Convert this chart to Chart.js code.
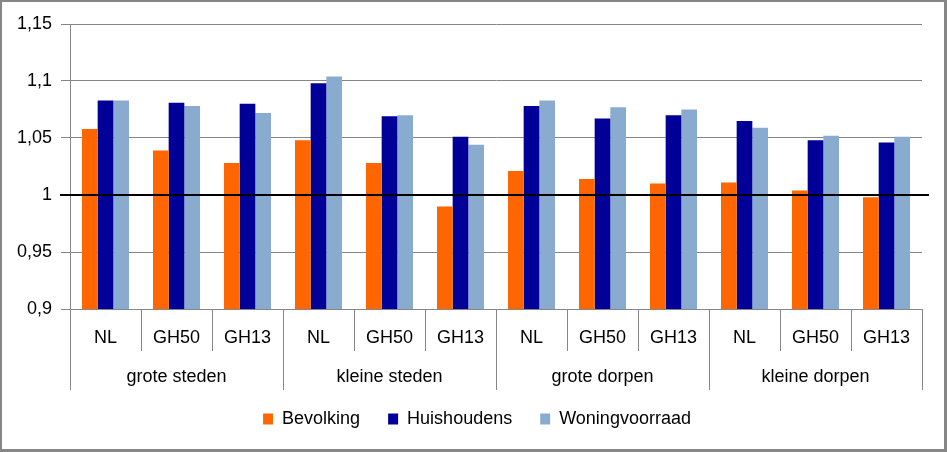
<!DOCTYPE html>
<html>
<head>
<meta charset="utf-8">
<script src="https://cdn.jsdelivr.net/npm/chart.js@4"></script>
<style>
    html, body { margin: 0; padding: 0; background: #ffffff; }
    canvas { display: block; }
</style>
</head>
<body>
<canvas id="chart" width="947" height="452"></canvas>
<script>
// categorieën
const groups = ['grote steden', 'kleine steden', 'grote dorpen', 'kleine dorpen'];
const subLabels = ['NL', 'GH50', 'GH13', 'NL', 'GH50', 'GH13', 'NL', 'GH50', 'GH13', 'NL', 'GH50', 'GH13'];

// reeksen (index t.o.v. 1)
const bevolking = [1.058, 1.039, 1.028, 1.048, 1.028, 0.990, 1.021, 1.014, 1.010, 1.011, 1.004, 0.998];
const huishoudens = [1.083, 1.081, 1.080, 1.098, 1.069, 1.051, 1.078, 1.067, 1.070, 1.065, 1.048, 1.046];
const woningvoorraad = [1.083, 1.078, 1.072, 1.104, 1.070, 1.044, 1.083, 1.077, 1.075, 1.059, 1.052, 1.051];

// y-as
const yTicks = [0.9, 0.95, 1, 1.05, 1.1, 1.15];
const yTickLabels = ['0,9', '0,95', '1', '1,05', '1,1', '1,15'];
const refLine = 1;

const FONT = { family: 'Liberation Sans', size: 18 };
const GRID = '#868686';

// zwarte lijn op 1, legenda iets verschuiven, grijze rand
const extras = {
    id: 'extras',
    afterLayout(chart) {
        const lg = chart.legend;
        if (!lg) return;
        lg.left += 16; lg.right += 16;
        lg.top -= 8; lg.bottom -= 8;
    },
    afterDatasetsDraw(chart) {
        const { ctx, chartArea, scales } = chart;
        const y = scales.y.getPixelForValue(refLine);
        ctx.save();
        ctx.strokeStyle = '#000000';
        ctx.lineWidth = 2;
        ctx.beginPath();
        ctx.moveTo(chartArea.left - 10, y);
        ctx.lineTo(chartArea.right + 7, y);
        ctx.stroke();
        ctx.restore();
    },
    afterDraw(chart) {
        const { ctx, width, height } = chart;
        ctx.save();
        ctx.fillStyle = GRID;
        ctx.fillRect(0, 0, width, 2);
        ctx.fillRect(0, 0, 2, height);
        ctx.fillRect(width - 3, 0, 3, height);
        ctx.fillRect(0, height - 3, width, 3);
        ctx.restore();
    }
};

new Chart(document.getElementById('chart'), {
    type: 'bar',
    data: {
        labels: subLabels,
        datasets: [
            { label: 'Bevolking', data: bevolking, backgroundColor: '#FF6600', borderWidth: 0 },
            { label: 'Huishoudens', data: huishoudens, backgroundColor: '#000099', borderWidth: 0 },
            { label: 'Woningvoorraad', data: woningvoorraad, backgroundColor: '#8AABD0', borderWidth: 0 }
        ]
    },
    options: {
        responsive: false,
        animation: false,
        maintainAspectRatio: false,
        categoryPercentage: 0.662,
        barPercentage: 1.0,
        layout: { padding: { left: 0, right: 25, top: 24, bottom: 6 } },
        plugins: {
            tooltip: { enabled: false },
            legend: {
                display: true,
                position: 'bottom',
                labels: {
                    font: FONT,
                    color: '#000000',
                    boxWidth: 10,
                    boxHeight: 11,
                    padding: 28
                }
            }
        },
        scales: {
            y: {
                min: 0.9,
                max: 1.15,
                afterBuildTicks: (scale) => { scale.ticks = yTicks.map(v => ({ value: v })); },
                afterFit: (scale) => { scale.width = 70; },
                ticks: {
                    font: FONT,
                    color: '#000000',
                    padding: 9,
                    callback: (value) => yTickLabels[yTicks.indexOf(Math.round(value * 100) / 100)]
                },
                grid: { color: GRID, lineWidth: 1, tickLength: 9 },
                border: { color: GRID, width: 1 }
            },
            x: {
                weight: 0,
                afterFit: (scale) => { scale.height = 42; },
                ticks: { font: FONT, color: '#000000', padding: -24, maxRotation: 0, autoSkip: false },
                grid: { offset: true, drawOnChartArea: false, color: GRID, tickLength: 42 },
                border: { color: GRID, width: 1 }
            },
            x2: {
                type: 'category',
                position: 'bottom',
                weight: 1,
                labels: groups,
                offset: true,
                afterFit: (scale) => { scale.height = 39; },
                ticks: { font: FONT, color: '#000000', padding: -24, maxRotation: 0, autoSkip: false },
                grid: { offset: true, drawOnChartArea: false, color: GRID, tickLength: 39 },
                border: { display: false }
            }
        }
    },
    plugins: [extras]
});
</script>
</body>
</html>
